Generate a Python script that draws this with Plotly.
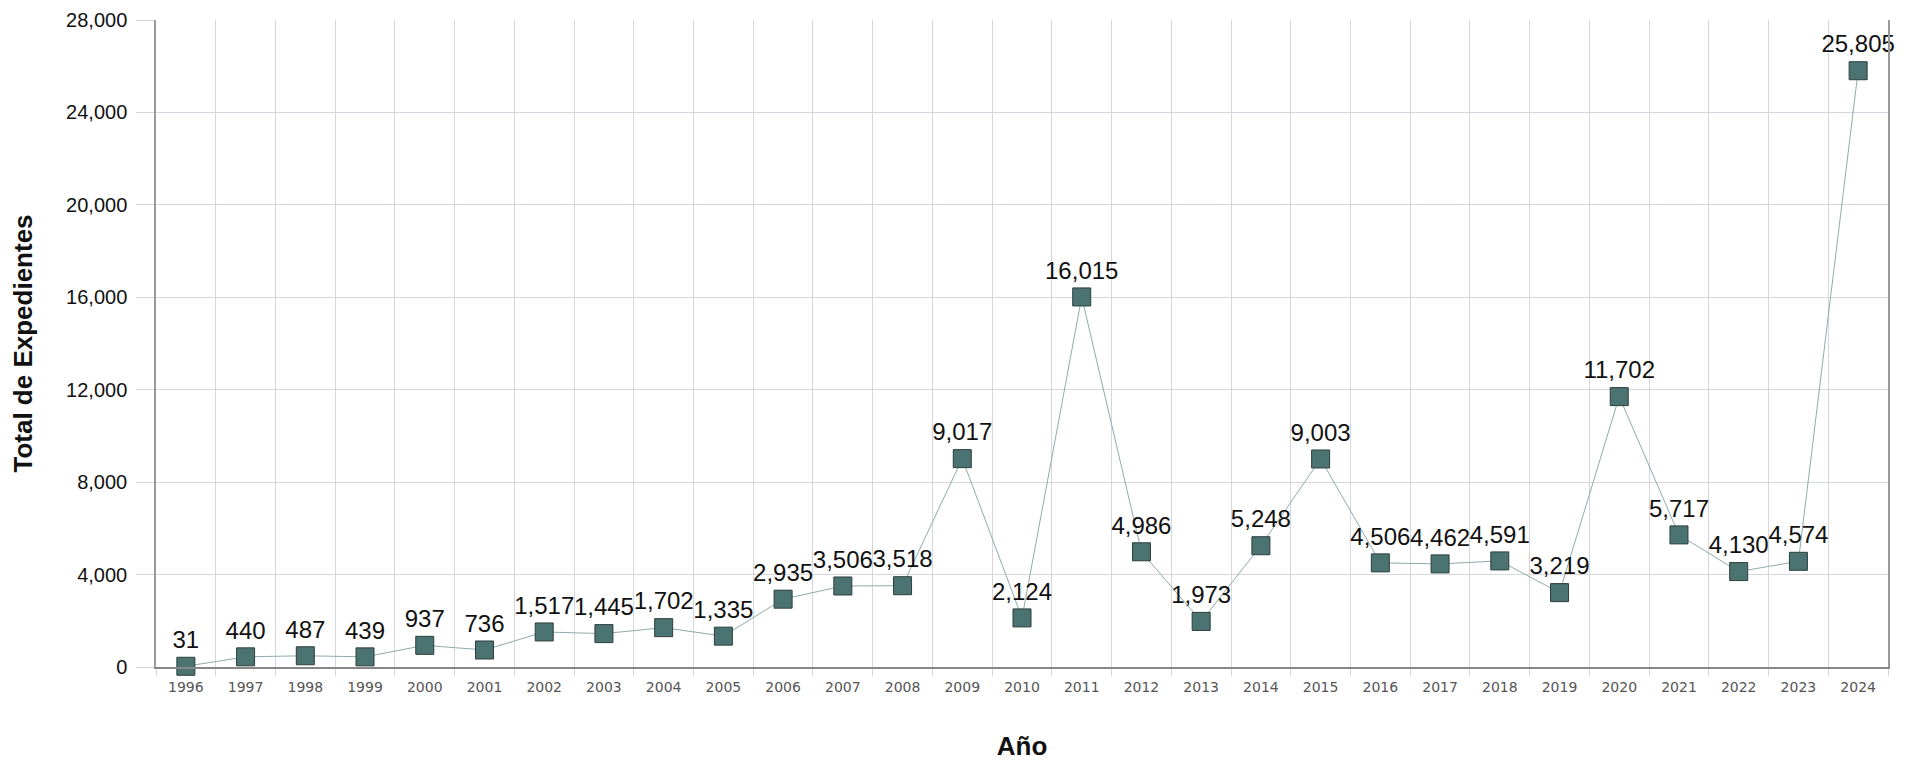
import plotly.graph_objects as go

years = [str(y) for y in range(1996, 2025)]
totals = [31, 440, 487, 439, 937, 736, 1517, 1445, 1702, 1335, 2935, 3506, 3518,
          9017, 2124, 16015, 4986, 1973, 5248, 9003, 4506, 4462, 4591, 3219,
          11702, 5717, 4130, 4574, 25805]
y_ticks = list(range(0, 28001, 4000))

fig = go.Figure()
fig.add_trace(go.Scatter(
    x=years, y=totals,
    mode="lines+markers+text",
    text=[f"{v:,}" for v in totals],
    textposition="top center",
    textfont=dict(family="Liberation Sans, Arial, sans-serif", size=24, color="#111111"),
    line=dict(color="#8fabab", width=1),
    marker=dict(symbol="square", size=18, color="#4b7372",
                line=dict(color="#2c3e3e", width=1)),
    cliponaxis=False,
))

fig.update_layout(
    width=1910, height=753,
    margin=dict(l=148, r=30, t=12, b=94),
    plot_bgcolor="white", paper_bgcolor="white",
    showlegend=False,
    font=dict(family="Liberation Sans, Arial, sans-serif"),
)
fig.update_xaxes(
    type="category",
    range=[-0.5, len(years) - 0.5],
    tickson="boundaries",
    automargin=False,
    showgrid=True, gridcolor="#d6d6de", gridwidth=1,
    ticks="outside", ticklen=7, tickcolor="#d6d6de",
    ticklabelstandoff=6,
    showline=True, linecolor="#888888", linewidth=1.5,
    tickfont=dict(family="DejaVu Sans, sans-serif", size=14, color="#555555"),
    title=dict(text="<b>Año</b>", font=dict(size=26, color="#111111"), standoff=46),
)
fig.update_yaxes(
    range=[0, 28000],
    tickvals=y_ticks,
    tickformat=",d",
    automargin=False,
    ticklabeloverflow="allow",
    showgrid=True, gridcolor="#d6d6de", gridwidth=1,
    ticks="outside", ticklen=18, tickcolor="#d6d6de",
    ticklabelstandoff=5,
    showline=True, linecolor="#999999", linewidth=1.5, mirror=True,
    zeroline=False,
    tickfont=dict(size=20, color="#111111"),
    title=dict(text="<b>Total de Expedientes</b>", font=dict(size=26, color="#111111"), standoff=36),
)

fig.write_html("out.html")
